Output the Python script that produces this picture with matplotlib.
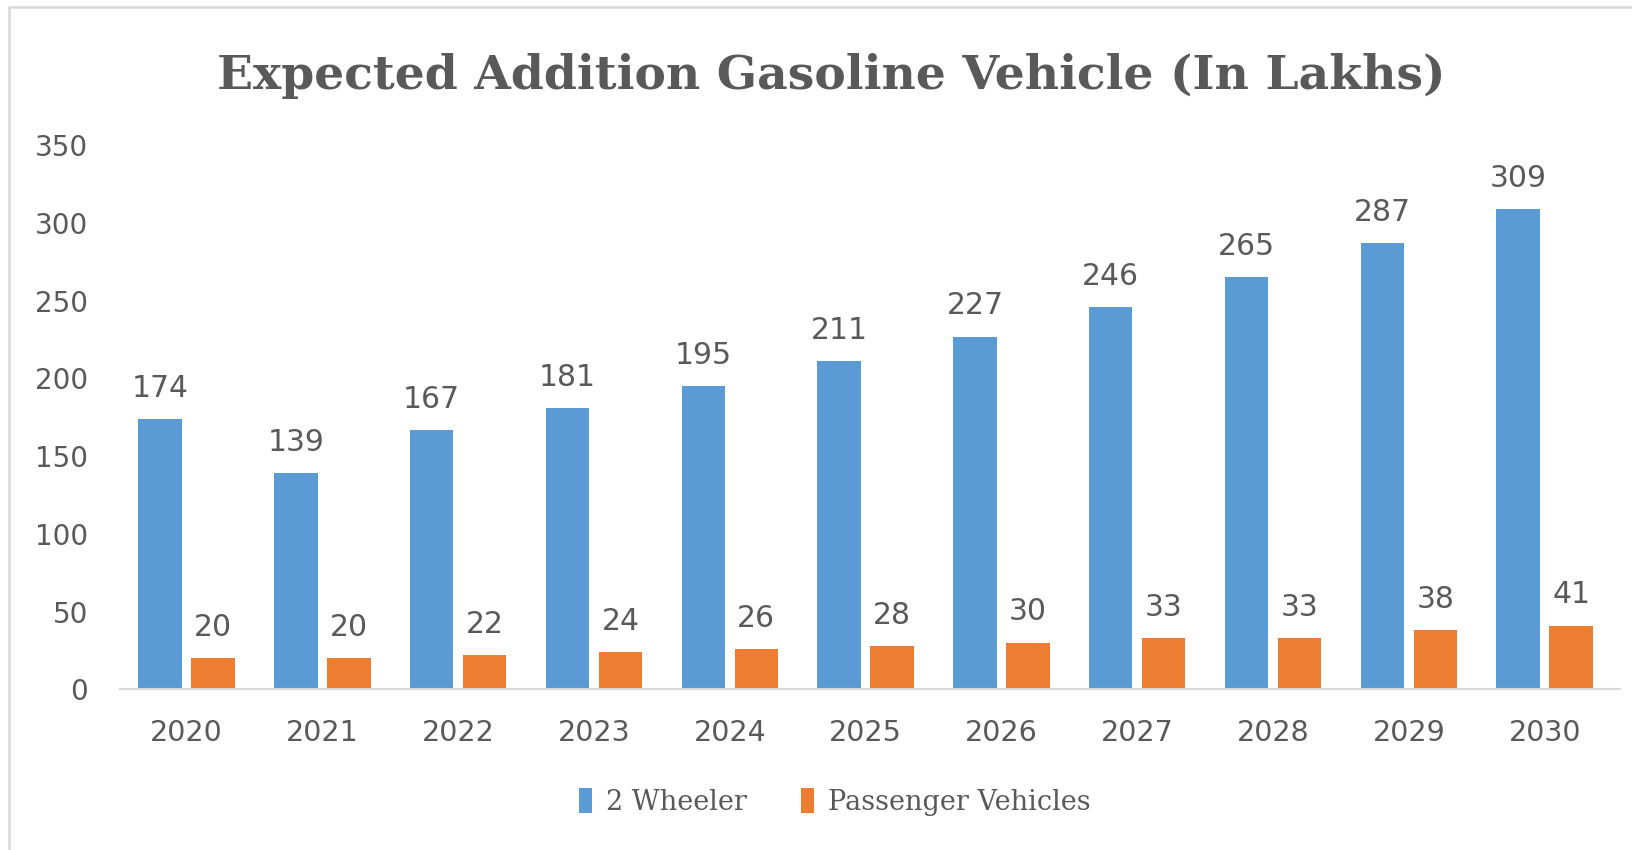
import matplotlib
matplotlib.use("Agg")
import matplotlib.pyplot as plt
import numpy as np
from matplotlib.patches import Rectangle

years = ["2020", "2021", "2022", "2023", "2024", "2025", "2026", "2027", "2028", "2029", "2030"]
two_wheeler = [174, 139, 167, 181, 195, 211, 227, 246, 265, 287, 309]
passenger = [20, 20, 22, 24, 26, 28, 30, 33, 33, 38, 41]
series_names = ["2 Wheeler", "Passenger Vehicles"]
title = "Expected Addition Gasoline Vehicle (In Lakhs)"

BLUE = "#5B9BD5"
ORANGE = "#ED7D31"
TXT = "#595959"

fig = plt.figure(figsize=(16.33, 8.5), dpi=100)
fig.patch.set_facecolor("white")
fig.patches.append(Rectangle((9/1633, -0.1), 1.2, (850-7)/850 + 0.1, transform=fig.transFigure,
                             fill=False, edgecolor="#D9D9D9", linewidth=1.8))

ax = fig.add_axes([120/1633, 0.189, (1620-120)/1633, 0.64])
x = np.arange(len(years))
w = 0.32
off = 0.195
b1 = ax.bar(x - off, two_wheeler, w, color=BLUE, label=series_names[0], zorder=2)
b2 = ax.bar(x + off, passenger, w, color=ORANGE, label=series_names[1], zorder=2)

for bars, vals in ((b1, two_wheeler), (b2, passenger)):
    for r, v in zip(bars, vals):
        ax.annotate(str(v), (r.get_x() + r.get_width() / 2, v), xytext=(0, 16),
                    textcoords="offset points", ha="center", va="baseline",
                    fontsize=21.5, color=TXT, family="DejaVu Sans")

ax.set_ylim(0, 350)
ax.set_yticks(range(0, 351, 50))
ax.set_xlim(-0.49, 10.555)
ax.set_xticks(x)
ax.set_xticklabels(years, fontsize=20.5, color=TXT, family="DejaVu Sans")
for lab in ax.get_yticklabels():
    lab.set_fontsize(20)
    lab.set_color(TXT)
    lab.set_family("DejaVu Sans")
ax.tick_params(axis="both", length=0)
ax.tick_params(axis="x", pad=21)
ax.tick_params(axis="y", pad=23)
for s in ("top", "right", "left"):
    ax.spines[s].set_visible(False)
ax.spines["bottom"].set_color("#D9D9D9")
ax.spines["bottom"].set_linewidth(1.5)

fig.text(0.509, 1 - 89/850, title, ha="center", va="baseline", fontsize=34,
         fontweight="bold", color=TXT, family="DejaVu Serif")

leg = fig.legend(handles=[b1, b2], labels=series_names, loc="center", bbox_to_anchor=(0.511, 1 - 802/850),
                 ncol=2, frameon=False, handlelength=0.5, handleheight=1.0, handletextpad=0.5,
                 columnspacing=2.0, prop={"family": "DejaVu Serif", "size": 19.5})
for t in leg.get_texts():
    t.set_color(TXT)

fig.savefig("out.png", dpi=100)
